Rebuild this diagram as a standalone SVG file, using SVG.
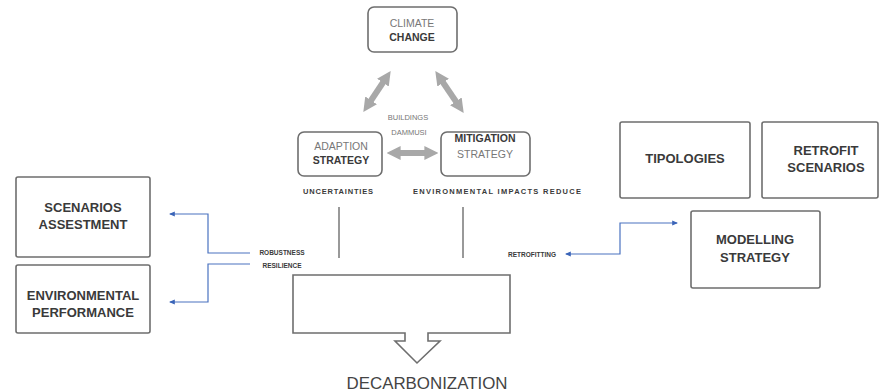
<svg xmlns="http://www.w3.org/2000/svg" width="888" height="391" viewBox="0 0 888 391">
<style>
  .box{fill:#fff;stroke:#6e6e6e;stroke-width:1.6}
  .t{font-family:"Liberation Sans",Arial,sans-serif;text-anchor:middle}
  .b{font-weight:bold;fill:#3a3a3a}
  .r{fill:#777}
  .big{font-size:13px}
  .mid{font-size:10.5px}
  .sm{font-size:7.5px}
  .xs{font-size:6.5px}
  .gray{stroke:#a8a8a8;stroke-width:6;fill:none}
  .blue{stroke:#4a72c0;stroke-width:1.2;fill:none}
  .vl{stroke:#777;stroke-width:1.5}
</style>
<defs>
  <marker id="ga" viewBox="0 0 10 10" refX="4" refY="5" markerWidth="14" markerHeight="14" markerUnits="userSpaceOnUse" orient="auto-start-reverse">
    <path d="M0,0 L10,5 L0,10 z" fill="#a8a8a8"/>
  </marker>
  <marker id="ba" viewBox="0 0 10 10" refX="8" refY="5" markerWidth="6" markerHeight="6" markerUnits="userSpaceOnUse" orient="auto-start-reverse">
    <path d="M0,1 L10,5 L0,9 z" fill="#3a64b8"/>
  </marker>
</defs>

<g id="connectors">
  <line class="gray" x1="386" y1="78" x2="368" y2="105" marker-start="url(#ga)" marker-end="url(#ga)"/>
  <line class="gray" x1="440" y1="78" x2="459" y2="106" marker-start="url(#ga)" marker-end="url(#ga)"/>
  <line class="gray" x1="395" y1="153" x2="430" y2="153" marker-start="url(#ga)" marker-end="url(#ga)"/>
  <line class="vl" x1="339" y1="207" x2="339" y2="258"/>
  <line class="vl" x1="463" y1="207" x2="463" y2="258"/>
  <polyline class="blue" points="250,253 208,253 208,214 170,214" marker-end="url(#ba)"/>
  <polyline class="blue" points="250,264 208,264 208,302 170,302" marker-end="url(#ba)"/>
  <polyline class="blue" points="566,254 620,254 620,223 677,223" marker-start="url(#ba)" marker-end="url(#ba)"/>
</g>

<g id="climate">
  <rect class="box" x="368" y="7" width="89" height="45" rx="6"/>
  <text class="t r mid" x="412" y="27">CLIMATE</text>
  <text class="t b mid" x="412" y="41">CHANGE</text>
</g>

<g id="buildings">
  <text class="t r sm" x="408" y="120">BUILDINGS</text>
  <text class="t r sm" x="409" y="135">DAMMUSI</text>
</g>

<g id="adaption">
  <rect class="box" x="298" y="132" width="84" height="44" rx="6"/>
  <text class="t r mid" x="341" y="150">ADAPTION</text>
  <text class="t b mid" x="341" y="164">STRATEGY</text>
</g>

<g id="mitigation">
  <rect class="box" x="441" y="132" width="89" height="44" rx="6"/>
  <text class="t b mid" x="485" y="142">MITIGATION</text>
  <text class="t r mid" x="485" y="158">STRATEGY</text>
</g>

<g id="uncertainties">
  <text class="t b sm" x="338" y="194" textLength="70">UNCERTAINTIES</text>
</g>
<g id="impacts">
  <text class="t b sm" x="497" y="194" textLength="168">ENVIRONMENTAL IMPACTS REDUCE</text>
</g>

<g id="robustness">
  <text class="t b xs" x="282" y="255">ROBUSTNESS</text>
  <text class="t b xs" x="282" y="268">RESILIENCE</text>
</g>

<g id="retrofitting">
  <text class="t b xs" x="532" y="257">RETROFITTING</text>
</g>

<g id="scenarios">
  <rect class="box" x="16" y="177" width="134" height="80" rx="2"/>
  <text class="t b big" x="83" y="212">SCENARIOS</text>
  <text class="t b big" x="83" y="229">ASSESTMENT</text>
</g>

<g id="environmental">
  <rect class="box" x="16" y="265" width="134" height="68" rx="2"/>
  <text class="t b big" x="83" y="300">ENVIRONMENTAL</text>
  <text class="t b big" x="83" y="317">PERFORMANCE</text>
</g>

<g id="tipologies">
  <rect class="box" x="620" y="122" width="130" height="76" rx="2"/>
  <text class="t b big" x="685" y="163">TIPOLOGIES</text>
</g>

<g id="retrofit">
  <rect class="box" x="762" y="122" width="116" height="76" rx="2"/>
  <text class="t b big" x="826" y="155">RETROFIT</text>
  <text class="t b big" x="826" y="172">SCENARIOS</text>
</g>

<g id="modelling">
  <rect class="box" x="691" y="211" width="129" height="77" rx="2"/>
  <text class="t b big" x="755" y="244">MODELLING</text>
  <text class="t b big" x="755" y="262">STRATEGY</text>
</g>

<g id="decarbonization">
  <path class="box" d="M293,275 L510,275 L510,333 L428,333 L428,341 L440,341 L417,363 L395,341 L405,341 L405,333 L293,333 Z"/>
  <text class="t" x="427" y="389" style="font-size:16.5px;fill:#444" textLength="161" lengthAdjust="spacingAndGlyphs">DECARBONIZATION</text>
</g>
</svg>
